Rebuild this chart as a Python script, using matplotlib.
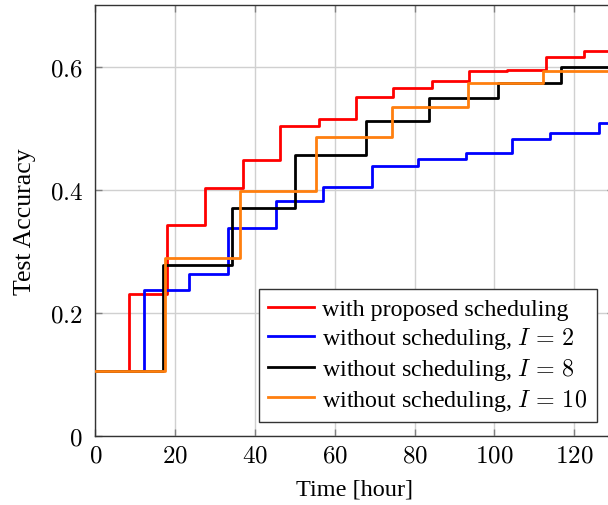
import matplotlib
matplotlib.use("Agg")
import matplotlib.pyplot as plt

plt.rcParams['font.family'] = ['Liberation Serif', 'DejaVu Serif']
plt.rcParams['mathtext.fontset'] = 'cm'

# step change points (hours) and accuracy after each change
t_prop = [0, 8.4, 18.0, 27.4, 36.9, 46.3, 56.1, 65.3, 74.7, 84.4, 93.7, 103.3, 112.9, 122.5, 130]
a_prop = [0.105, 0.230, 0.343, 0.402, 0.448, 0.504, 0.514, 0.550, 0.565, 0.577, 0.592, 0.595, 0.615, 0.625, 0.625]

t_i2 = [0, 12.2, 23.6, 33.2, 45.3, 57.0, 69.3, 80.8, 92.9, 104.4, 114.0, 126.2, 130]
a_i2 = [0.105, 0.236, 0.263, 0.338, 0.382, 0.405, 0.439, 0.449, 0.459, 0.483, 0.492, 0.508, 0.508]

t_i8 = [0, 16.9, 34.3, 50.1, 67.8, 83.6, 100.9, 116.6, 130]
a_i8 = [0.105, 0.278, 0.370, 0.457, 0.511, 0.549, 0.573, 0.600, 0.600]

t_i10 = [0, 17.4, 36.3, 55.3, 74.4, 93.4, 112.3, 130]
a_i10 = [0.105, 0.289, 0.398, 0.486, 0.534, 0.574, 0.593, 0.593]

labels = ["with proposed scheduling",
          r"without scheduling, $I\,=\,2$",
          r"without scheduling, $I\,=\,8$",
          r"without scheduling, $I\,=\,10$"]
colors = ["#ff0000", "#0000ff", "#000000", "#ff7f0e"]

xticks = [0, 20, 40, 60, 80, 100, 120]
yticks = [0, 0.2, 0.4, 0.6]

W, H = 608, 506
fig = plt.figure(figsize=(W / 100, H / 100), dpi=100)
x0, x1 = 95.3, 95.3 + 130 * 3.99
y0, y1 = 436.7, 6.0
ax = fig.add_axes([x0 / W, (H - y0) / H, (x1 - x0) / W, (y0 - y1) / H])

series = [(t_prop, a_prop), (t_i2, a_i2), (t_i8, a_i8), (t_i10, a_i10)]
for (t, a), lab, c in zip(series, labels, colors):
    ax.step(t, a, where='post', color=c, lw=2.0, label=lab, zorder=3)

ax.set_xlim(0, 130)
ax.set_ylim(0, 0.7)
ax.set_xticks(xticks)
ax.set_yticks(yticks)
ax.set_xticklabels([f"${v}$" for v in xticks])
ax.set_yticklabels(["$0$"] + [f"${v:.1f}$" for v in yticks[1:]])
ax.tick_params(labelsize=18, direction='in', length=5, color='#808080',
               top=True, right=True, width=1)
ax.tick_params(axis='y', pad=9)
ax.tick_params(axis='x', pad=6)
ax.grid(True, color='#d0d0d0', lw=1.0, zorder=0)
ax.set_axisbelow(True)
for s in ax.spines.values():
    s.set_color('#333333')
    s.set_linewidth(1.0)

ax.set_xlabel("Time [hour]", fontsize=17.5, labelpad=9)
ax.set_ylabel("Test Accuracy", fontsize=18.5, labelpad=10)

leg = ax.legend(loc='lower right', bbox_to_anchor=(0.967, 0.031), borderaxespad=0,
                fontsize=17.3, fancybox=False, framealpha=1, edgecolor='#333333',
                handlelength=1.9, handletextpad=0.35, labelspacing=0.2,
                borderpad=0.4)
leg.get_frame().set_linewidth(1.0)

fig.savefig("out.png", dpi=100)
